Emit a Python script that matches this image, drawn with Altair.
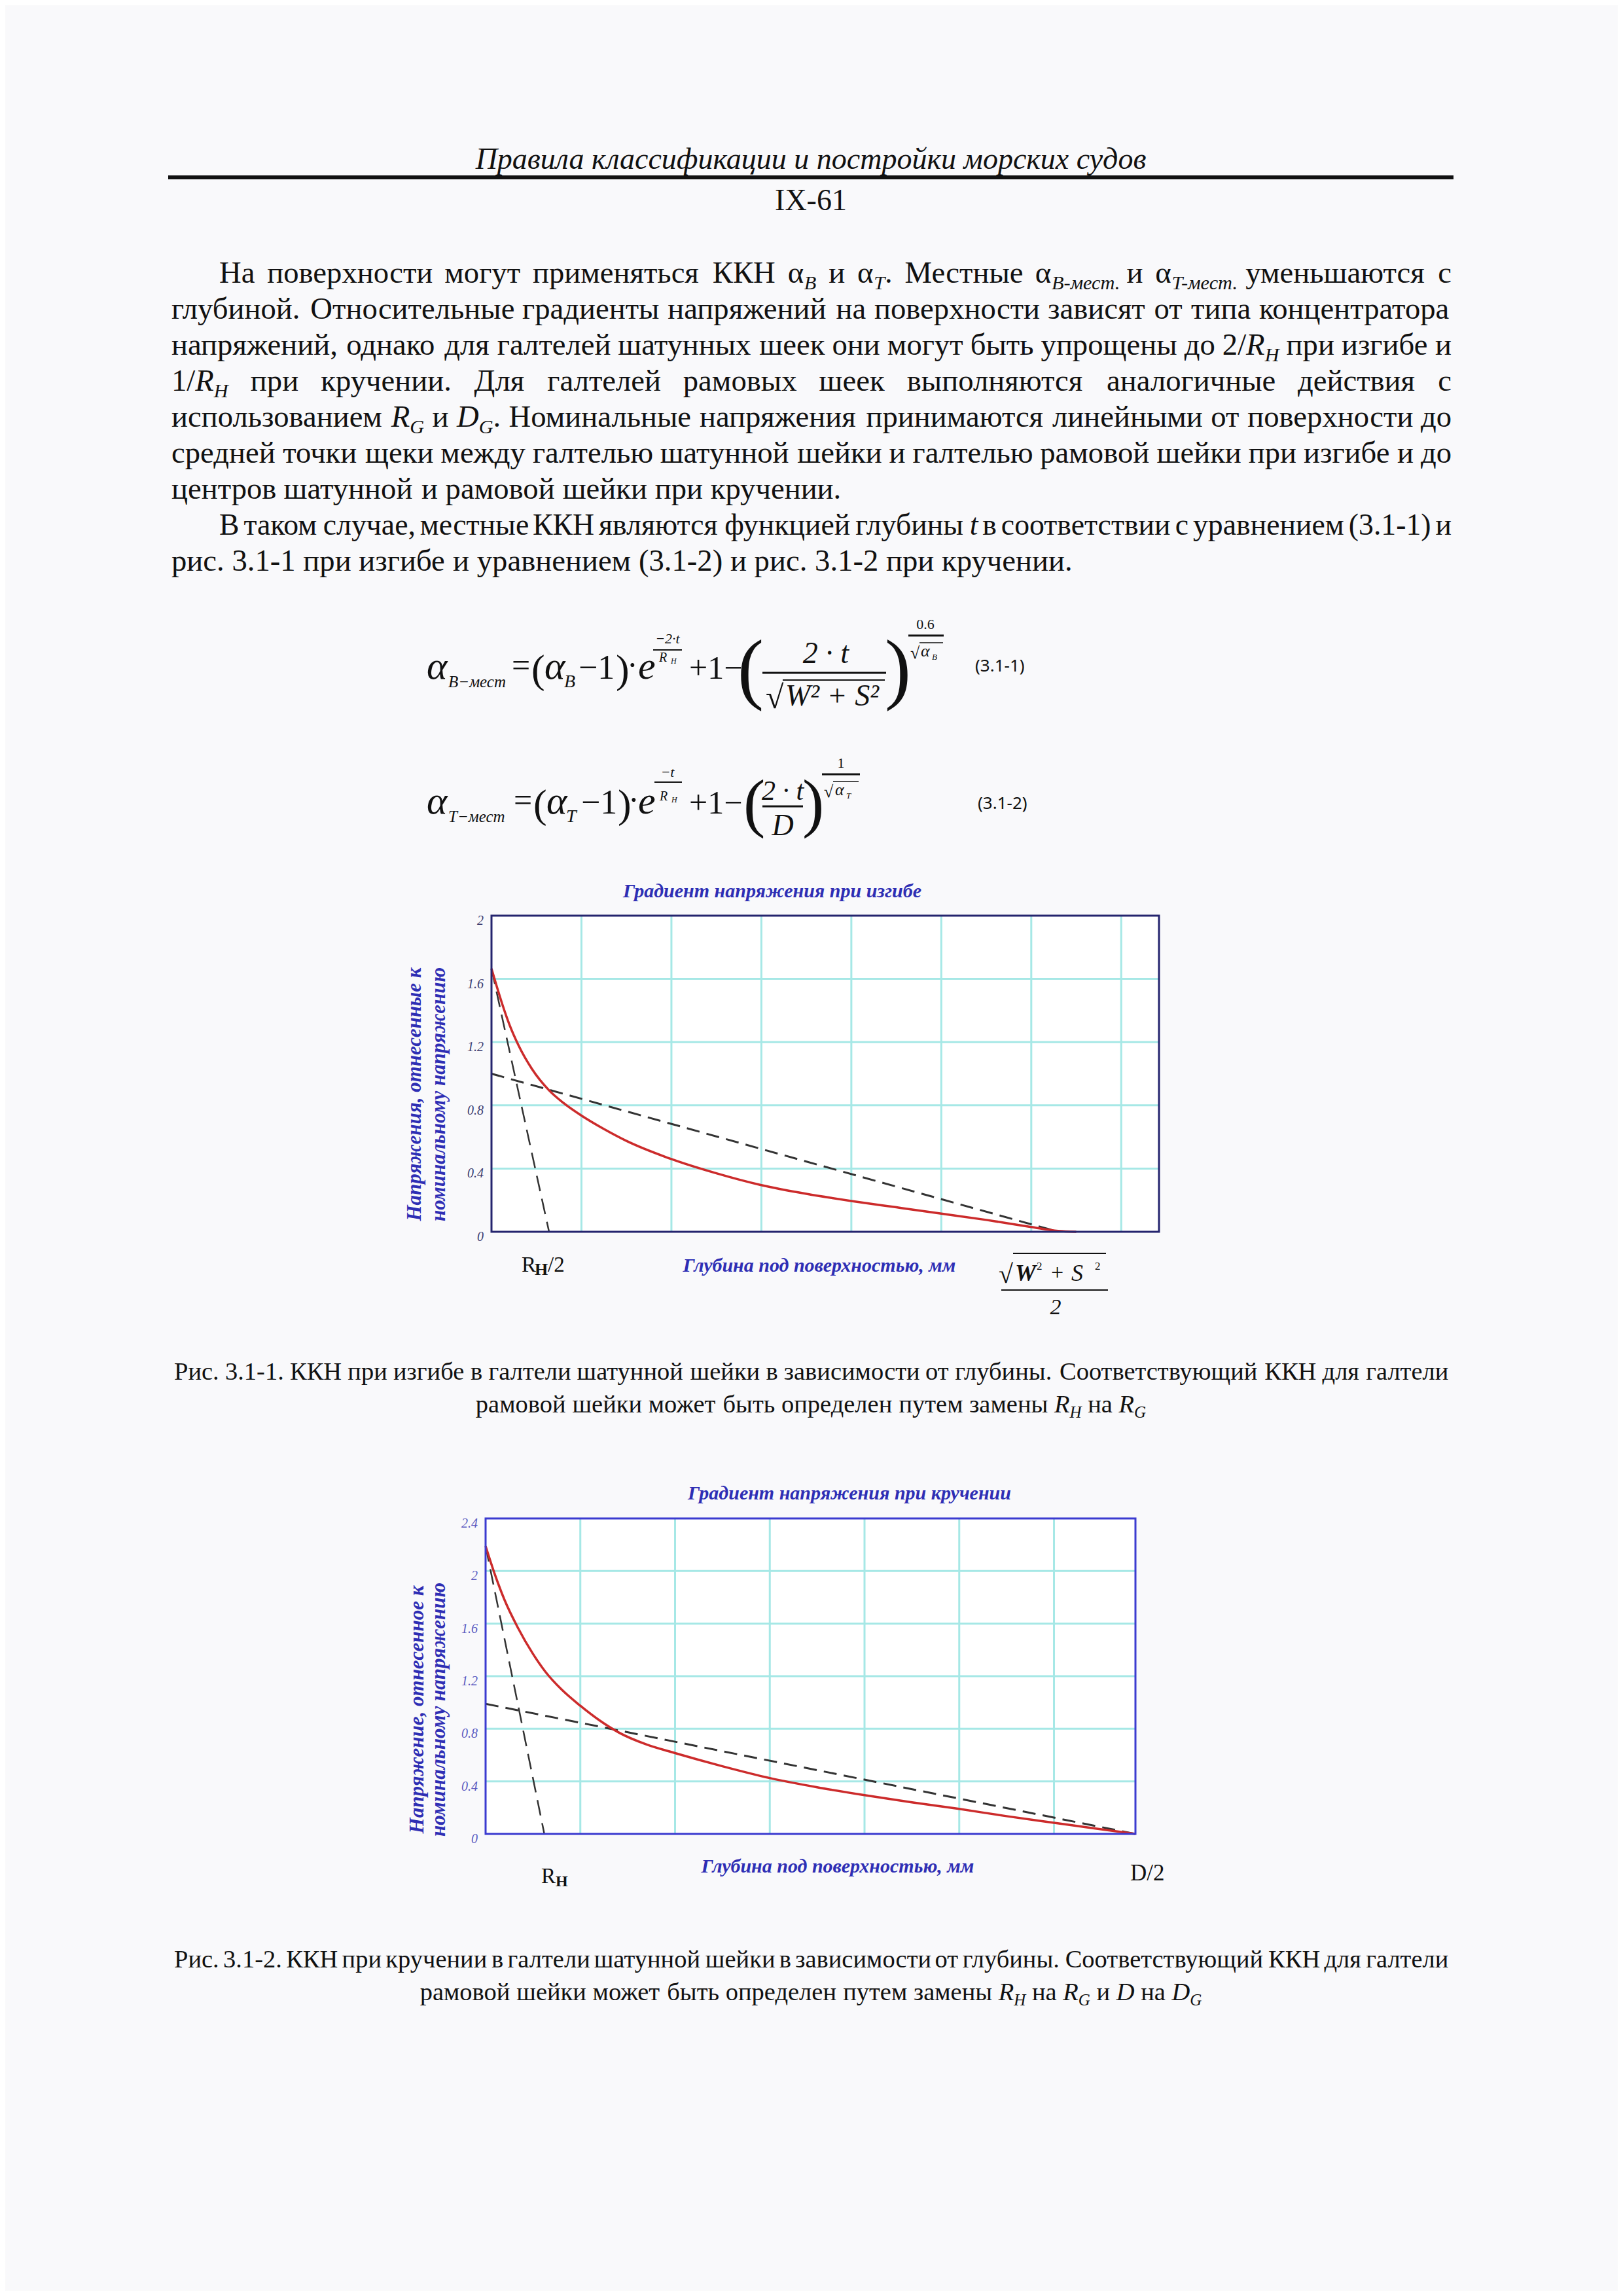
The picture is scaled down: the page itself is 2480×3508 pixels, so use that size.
import altair as alt
import pandas as pd

# ---------------- data ----------------
# Fig. 3.1-1 (bending)
bend_t = [0, 0.06, 0.12, 0.2, 0.3, 0.45, 0.64, 0.8, 1.0, 1.25, 1.5, 2.0, 2.5, 3.0, 3.5, 4.0, 4.5, 5.0, 5.5, 6.0, 6.3, 6.5]
bend_k = [1.665, 1.55, 1.44, 1.31, 1.18, 1.03, 0.895, 0.815, 0.735, 0.65, 0.575, 0.46, 0.37, 0.295, 0.24, 0.195, 0.155, 0.115, 0.075, 0.03, 0.005, 0.0]
bend_steep_t = [0, 0.64]
bend_steep_k = [1.665, 0.0]
bend_nom_t = [0, 6.3]
bend_nom_k = [1.0, 0.0]
bend_xmax = 7.42
bend_ymax = 2.0
bend_xgrid = [1, 2, 3, 4, 5, 6, 7]
bend_ygrid = [0.4, 0.8, 1.2, 1.6]
bend_yticks = [0, 0.4, 0.8, 1.2, 1.6, 2.0]
bend_ylabels = ["0", "0.4", "0.8", "1.2", "1.6", "2"]

# Fig. 3.1-2 (torsion)
tors_t = [0, 0.1, 0.2, 0.34, 0.5, 0.63, 0.8, 1.0, 1.2, 1.41, 1.7, 2.0, 2.5, 3.0, 3.5, 4.0, 4.5, 5.0, 5.5, 6.0, 6.4, 6.86]
tors_k = [2.19, 1.97, 1.78, 1.57, 1.37, 1.235, 1.10, 0.975, 0.865, 0.77, 0.68, 0.615, 0.515, 0.425, 0.355, 0.295, 0.24, 0.19, 0.135, 0.085, 0.045, 0.0]
tors_steep_t = [0, 0.62]
tors_steep_k = [2.19, 0.0]
tors_nom_t = [0, 6.86]
tors_nom_k = [0.99, 0.0]
tors_xmax = 6.86
tors_ymax = 2.4
tors_xgrid = [1, 2, 3, 4, 5, 6]
tors_ygrid = [0.4, 0.8, 1.2, 1.6, 2.0]
tors_yticks = [0, 0.4, 0.8, 1.2, 1.6, 2.0, 2.4]
tors_ylabels = ["0", "0.4", "0.8", "1.2", "1.6", "2", "2.4"]

# ---------------- texts ( ~ italic, _ subscript, ^ back to upright ) ----------------
header_title = "Правила классификации и постройки морских судов"
header_page = "IX-61"
paragraph_lines = [
    "На поверхности могут применяться ККН α_B и α_T^. Местные α_B-мест. и α_T-мест. уменьшаются с",
    "глубиной. Относительные градиенты напряжений на поверхности зависят от типа концентратора",
    "напряжений, однако для галтелей шатунных шеек они могут быть упрощены до 2/~R_H при изгибе и",
    "1/~R_H при кручении. Для галтелей рамовых шеек выполняются аналогичные действия с",
    "использованием ~R_G и ~D_G^. Номинальные напряжения принимаются линейными от поверхности до",
    "средней точки щеки между галтелью шатунной шейки и галтелью рамовой шейки при изгибе и до",
    "центров шатунной и рамовой шейки при кручении.",
    "В таком случае, местные ККН являются функцией глубины ~t в соответствии с уравнением (3.1-1) и",
    "рис. 3.1-1 при изгибе и уравнением (3.1-2) и рис. 3.1-2 при кручении.",
]
paragraph_indent = [True, False, False, False, False, False, False, True, False]
paragraph_justify = [True, True, True, True, True, True, False, True, False]
caption1_lines = [
    "Рис. 3.1-1. ККН при изгибе в галтели шатунной шейки в зависимости от глубины. Соответствующий ККН для галтели",
    "рамовой шейки может быть определен путем замены ~R_H на ~R_G",
]
caption2_lines = [
    "Рис. 3.1-2. ККН при кручении в галтели шатунной шейки в зависимости от глубины. Соответствующий ККН для галтели",
    "рамовой шейки может быть определен путем замены ~R_H на ~R_G и ~D на ~D_G",
]
bend_title = "Градиент напряжения при изгибе"
tors_title = "Градиент напряжения при кручении"
x_title = "Глубина под поверхностью, мм"
bend_ytitle = ["Напряжения, отнесенные к", "номинальному напряжению"]
tors_ytitle = ["Напряжение, отнесенное к", "номинальному напряжению"]

# ---------------- style ----------------
OFF = 8
SERIF = "Liberation Serif"
SANS = "Noto Sans"
INK = "#111111"
BLUE = "#2e2eb4"
RED = "#cc2b2b"
DASH = "#333333"
GRID = "#a6e8e6"
BG = "#f9f9fb"
BODY = 46.7
CAP = 38.5

# advance widths (1/1000 em) of the serif face, used to lay out justified lines
_W = {' ': 250, '.': 250, ',': 250, '-': 333, '(': 333, ')': 333, '/': 278, '·': 250, ':': 278, 'α': 540}
for c in "0123456789":
    _W[c] = 500
_W.update(dict(zip("abcdefghijklmnopqrstuvwxyz",
                   [444, 500, 444, 500, 444, 333, 500, 500, 278, 278, 500, 278, 778, 500, 500, 500, 500, 333, 389, 278, 500, 500, 722, 500, 500, 444])))
_W.update(dict(zip("ABCDEFGHIJKLMNOPQRSTUVWXYZ",
                   [722, 667, 667, 722, 611, 556, 722, 722, 333, 389, 722, 611, 889, 722, 722, 556, 722, 667, 556, 611, 722, 722, 944, 722, 722, 611])))
_W.update(dict(zip("абвгдежзийклмнопрстуфхцчшщъыьэюяё",
                   [444, 509, 472, 410, 509, 444, 691, 395, 535, 535, 486, 499, 633, 535, 500, 535, 500, 444, 437, 500, 648, 500, 535, 503, 770, 770, 517, 672, 456, 429, 747, 483, 444])))
_W.update(dict(zip("АБВГДЕЖЗИЙКЛМНОПРСТУФХЦЧШЩЪЫЬЭЮЯ",
                   [722, 574, 667, 578, 682, 611, 896, 501, 722, 722, 667, 678, 889, 722, 722, 722, 556, 667, 611, 715, 790, 722, 722, 655, 1004, 1004, 752, 872, 574, 660, 1028, 667])))
_WI = {'R': 611, 'H': 722, 'G': 722, 'D': 722, 'B': 611, 'T': 556, 't': 278}


def seg_width(text, mode, size):
    tab = _W if mode == "n" else {**_W, **_WI}
    return sum(tab.get(c, 500) for c in text) * size / 1000.0


def parse_word(word):
    segs, mode, buf = [], "n", ""
    for ch in word:
        if ch in "~_^":
            if buf:
                segs.append((buf, mode))
            buf = ""
            mode = {"~": "i", "_": "s", "^": "n"}[ch]
        else:
            buf += ch
    if buf:
        segs.append((buf, mode))
    return segs


def layout_line(line, size, y, left=None, right=None, center=None, justify=False):
    words = [parse_word(w) for w in line.split(" ")]
    n = len(words)

    def measure(sz):
        return [sum(seg_width(t, m, sz * 0.65 if m == "s" else sz) for t, m in w) for w in words]

    widths = measure(size)
    space = 0.25 * size
    if justify and n > 1:
        avail = right - left
        need = sum(widths) + 0.15 * size * (n - 1)
        if need > avail:
            size = size * avail / need
            widths = measure(size)
        space = (avail - sum(widths)) / (n - 1)
        x = left
    else:
        total = sum(widths) + space * (n - 1)
        x = left if center is None else center - total / 2
    rows = []
    for w, wd in zip(words, widths):
        xx = x
        for t, m in w:
            s = size * 0.65 if m == "s" else size
            rows.append({"x": xx - OFF, "y": y + (0.22 * size if m == "s" else 0) - OFF,
                         "text": t, "size": s, "it": m != "n"})
            xx += seg_width(t, m, s)
        x += wd + space
    return rows


rows = []
for i, (line, ind, jus) in enumerate(zip(paragraph_lines, paragraph_indent, paragraph_justify)):
    rows += layout_line(line, BODY, 432 + 55 * i, left=335 if ind else 262, right=2218, justify=jus)
for cap_lines, y0 in ((caption1_lines, 2108), (caption2_lines, 3006)):
    rows += layout_line(cap_lines[0], CAP, y0, left=266, right=2213, justify=True)
    rows += layout_line(cap_lines[1], CAP, y0 + 50, center=1239)
body = pd.DataFrame(rows)


def text_layer(df, italic):
    return alt.Chart(df).mark_text(align="left", baseline="alphabetic", font=SERIF, color=INK,
                                   fontStyle="italic" if italic else "normal").encode(
        x=alt.X("x:Q", scale=None, axis=None),
        y=alt.Y("y:Q", scale=None, axis=None),
        text="text:N",
        size=alt.Size("size:Q", scale=None, legend=None),
    )


dummy = alt.Data(values=[{"a": 1}])


def T(s, x, y, size, style="normal", weight="normal", color=INK, align="left",
      baseline="alphabetic", font=SERIF, angle=None):
    kw = dict(text=s, fontSize=size, fontStyle=style, fontWeight=weight, color=color,
              align=align, baseline=baseline, font=font)
    if angle is not None:
        kw["angle"] = angle
    return alt.Chart(dummy).mark_text(**kw).encode(x=alt.value(x - OFF), y=alt.value(y - OFF))


def H(x1, x2, y, w=2, color=INK):
    return alt.Chart(dummy).mark_rule(color=color, strokeWidth=w).encode(
        x=alt.value(x1 - OFF), x2=alt.value(x2 - OFF), y=alt.value(y - OFF))


layers = [text_layer(body[~body["it"]], False), text_layer(body[body["it"]], True)]

# header
layers.append(T(header_title, 1239, 258, 46, style="italic", align="center"))
layers.append(H(257, 2221, 271, w=6))
layers.append(T(header_page, 1239, 321, 46, align="center"))

# formula (3.1-1)
fy = 1037
layers += [
    T("α", 652, fy, 60, style="italic"),
    T("B−мест", 685, fy + 13, 25, style="italic"),
    T("=", 782, fy - 4, 50),
    T("(", 812, fy + 6, 62),
    T("α", 832, fy, 60, style="italic"),
    T("B", 862, fy + 13, 28, style="italic"),
    T("−1", 884, fy, 52),
    T(")", 941, fy + 6, 62),
    T("·", 958, fy - 4, 50),
    T("e", 975, fy, 60, style="italic"),
    T("−2·t", 1020, 983, 22, style="italic", align="center"),
    H(998, 1042, 993, w=2),
    T("R", 1013, 1011, 20, style="italic", align="center"),
    T("H", 1025, 1014, 12, style="italic"),
    T("+1−", 1053, fy, 50),
    T("(", 1127, 1061, 120),
    T("2 · t", 1262, 1013, 46, style="italic", align="center"),
    H(1165, 1354, 1028, w=3),
    T("√", 1170, 1082, 50),
    H(1196, 1352, 1039, w=2),
    T("W² + S²", 1200, 1078, 46, style="italic"),
    T(")", 1352, 1061, 120),
    T("0.6", 1414, 961, 22, align="center"),
    H(1388, 1442, 971, w=3),
    T("√", 1391, 1006, 26),
    H(1405, 1441, 982, w=1.5),
    T("α", 1407, 1003, 26, style="italic"),
    T("B", 1424, 1008, 13, style="italic"),
    T("(3.1-1)", 1490, 1026, 26, font=SANS),
]

# formula (3.1-2)
gy = 1243
layers += [
    T("α", 652, gy, 60, style="italic"),
    T("T−мест", 685, gy + 13, 25, style="italic"),
    T("=", 785, gy - 4, 50),
    T("(", 815, gy + 6, 62),
    T("α", 835, gy, 60, style="italic"),
    T("T", 865, gy + 13, 28, style="italic"),
    T("−1", 888, gy, 52),
    T(")", 944, gy + 6, 62),
    T("·", 960, gy - 4, 50),
    T("e", 975, gy, 60, style="italic"),
    T("−t", 1020, 1187, 22, style="italic", align="center"),
    H(1000, 1042, 1195, w=2),
    T("R", 1014, 1223, 20, style="italic", align="center"),
    T("H", 1026, 1226, 12, style="italic"),
    T("+1−", 1053, gy, 50),
    T("(", 1136, 1260, 100),
    T("2 · t", 1196, 1222, 42, style="italic", align="center"),
    H(1165, 1227, 1232, w=3),
    T("D", 1196, 1276, 46, style="italic", align="center"),
    T(")", 1226, 1260, 100),
    T("1", 1285, 1173, 22, align="center"),
    H(1256, 1314, 1183, w=3),
    T("√", 1259, 1218, 26),
    H(1273, 1312, 1194, w=1.5),
    T("α", 1276, 1215, 26, style="italic"),
    T("T", 1293, 1220, 13, style="italic"),
    T("(3.1-2)", 1494, 1236, 26, font=SANS),
]


# ---------------- plots ----------------
def plot(t, k, st, sk, nt, nk, xmax, ymax, xgrid, ygrid, yticks, ylabels,
         xr, yr, frame_color, label_color):
    sx = alt.Scale(domain=[0, xmax], range=xr, nice=False, zero=False)
    sy = alt.Scale(domain=[0, ymax], range=yr, nice=False, zero=False)

    def X(f):
        return alt.X(f, type="quantitative", scale=sx, axis=None)

    def Y(f):
        return alt.Y(f, type="quantitative", scale=sy, axis=None)

    frame = pd.DataFrame({"x0": [0], "x1": [xmax], "y0": [0], "y1": [ymax]})
    vg = pd.DataFrame({"g": xgrid, "lo": 0.0, "hi": ymax})
    hg = pd.DataFrame({"g": ygrid, "lo": 0.0, "hi": xmax})
    lab = pd.DataFrame({"v": yticks, "lab": ylabels, "x0": 0.0})
    curve = pd.DataFrame({"t": t, "k": k})
    steep = pd.DataFrame({"t": st, "k": sk})
    nom = pd.DataFrame({"t": nt, "k": nk})

    bg = alt.Chart(frame).mark_rect(color="white").encode(
        x=X("x0"), x2="x1", y=Y("y0"), y2="y1")
    gv = alt.Chart(vg).mark_rule(color=GRID, strokeWidth=3).encode(
        x=X("g"), y=Y("lo"), y2="hi")
    gh = alt.Chart(hg).mark_rule(color=GRID, strokeWidth=3).encode(
        y=Y("g"), x=X("lo"), x2="hi")
    border = alt.Chart(frame).mark_rect(fillOpacity=0, stroke=frame_color, strokeWidth=3).encode(
        x=X("x0"), x2="x1", y=Y("y0"), y2="y1")
    l_steep = alt.Chart(steep).mark_line(color=DASH, strokeWidth=2.5, strokeDash=[24, 12]).encode(
        x=X("t"), y=Y("k"))
    l_nom = alt.Chart(nom).mark_line(color=DASH, strokeWidth=3, strokeDash=[20, 11]).encode(
        x=X("t"), y=Y("k"))
    l_curve = alt.Chart(curve).mark_line(color=RED, strokeWidth=3.5, interpolate="monotone").encode(
        x=X("t"), y=Y("k"))
    labels = alt.Chart(lab).mark_text(align="right", baseline="top", dx=-12, dy=-2, fontSize=20,
                                      fontStyle="italic", font=SERIF, color=label_color).encode(
        x=X("x0"), y=Y("v"), text="lab:N")
    return alt.layer(bg, gv, gh, l_nom, l_steep, l_curve, border, labels)


bend_plot = plot(bend_t, bend_k, bend_steep_t, bend_steep_k, bend_nom_t, bend_nom_k,
                 bend_xmax, bend_ymax, bend_xgrid, bend_ygrid, bend_yticks, bend_ylabels,
                 [751 - OFF, 1771 - OFF], [1882 - OFF, 1399 - OFF], "#24246e", "#3c3c6e")
tors_plot = plot(tors_t, tors_k, tors_steep_t, tors_steep_k, tors_nom_t, tors_nom_k,
                 tors_xmax, tors_ymax, tors_xgrid, tors_ygrid, tors_yticks, tors_ylabels,
                 [742 - OFF, 1735 - OFF], [2802 - OFF, 2320 - OFF], "#3b3bd0", "#5a5ac0")

# chart 1 annotations
layers += [
    T(bend_title, 1180, 1371, 30, style="italic", weight="bold", color=BLUE, align="center"),
    T(bend_ytitle[0], 634, 1672, 31, style="italic", weight="bold", color=BLUE,
      align="center", baseline="middle", angle=270),
    T(bend_ytitle[1], 671, 1672, 31, style="italic", weight="bold", color=BLUE,
      align="center", baseline="middle", angle=270),
    T(x_title, 1252, 1943, 30, style="italic", weight="bold", color=BLUE, align="center"),
    T("R", 797, 1943, 33),
    T("H", 817, 1948, 26, weight="bold"),
    T("/2", 837, 1943, 33),
    T("√", 1526, 1960, 40),
    H(1548, 1690, 1915, w=2),
    T("W", 1551, 1957, 36, style="italic", weight="bold"),
    T("2", 1584, 1940, 17),
    T("+", 1606, 1955, 34),
    T("S", 1637, 1957, 36, style="italic"),
    T("2", 1673, 1940, 17),
    H(1530, 1693, 1971, w=2),
    T("2", 1613, 2008, 34, style="italic", align="center"),
]

# chart 2 annotations
layers += [
    T(tors_title, 1298, 2291, 30, style="italic", weight="bold", color=BLUE, align="center"),
    T(tors_ytitle[0], 638, 2612, 31, style="italic", weight="bold", color=BLUE,
      align="center", baseline="middle", angle=270),
    T(tors_ytitle[1], 671, 2612, 31, style="italic", weight="bold", color=BLUE,
      align="center", baseline="middle", angle=270),
    T(x_title, 1280, 2861, 30, style="italic", weight="bold", color=BLUE, align="center"),
    T("R", 827, 2877, 33),
    T("H", 849, 2882, 24, weight="bold"),
    T("D/2", 1727, 2873, 35),
]

chart = alt.layer(bend_plot, tors_plot, *layers).resolve_scale(
    x="independent", y="independent", size="independent"
).properties(
    width=2464, height=3492, padding=0,
    autosize=alt.AutoSizeParams(type="none"),
    background=BG,
).configure_view(strokeWidth=0)

chart.save("out.html", embed_options={"renderer": "svg", "actions": False})
